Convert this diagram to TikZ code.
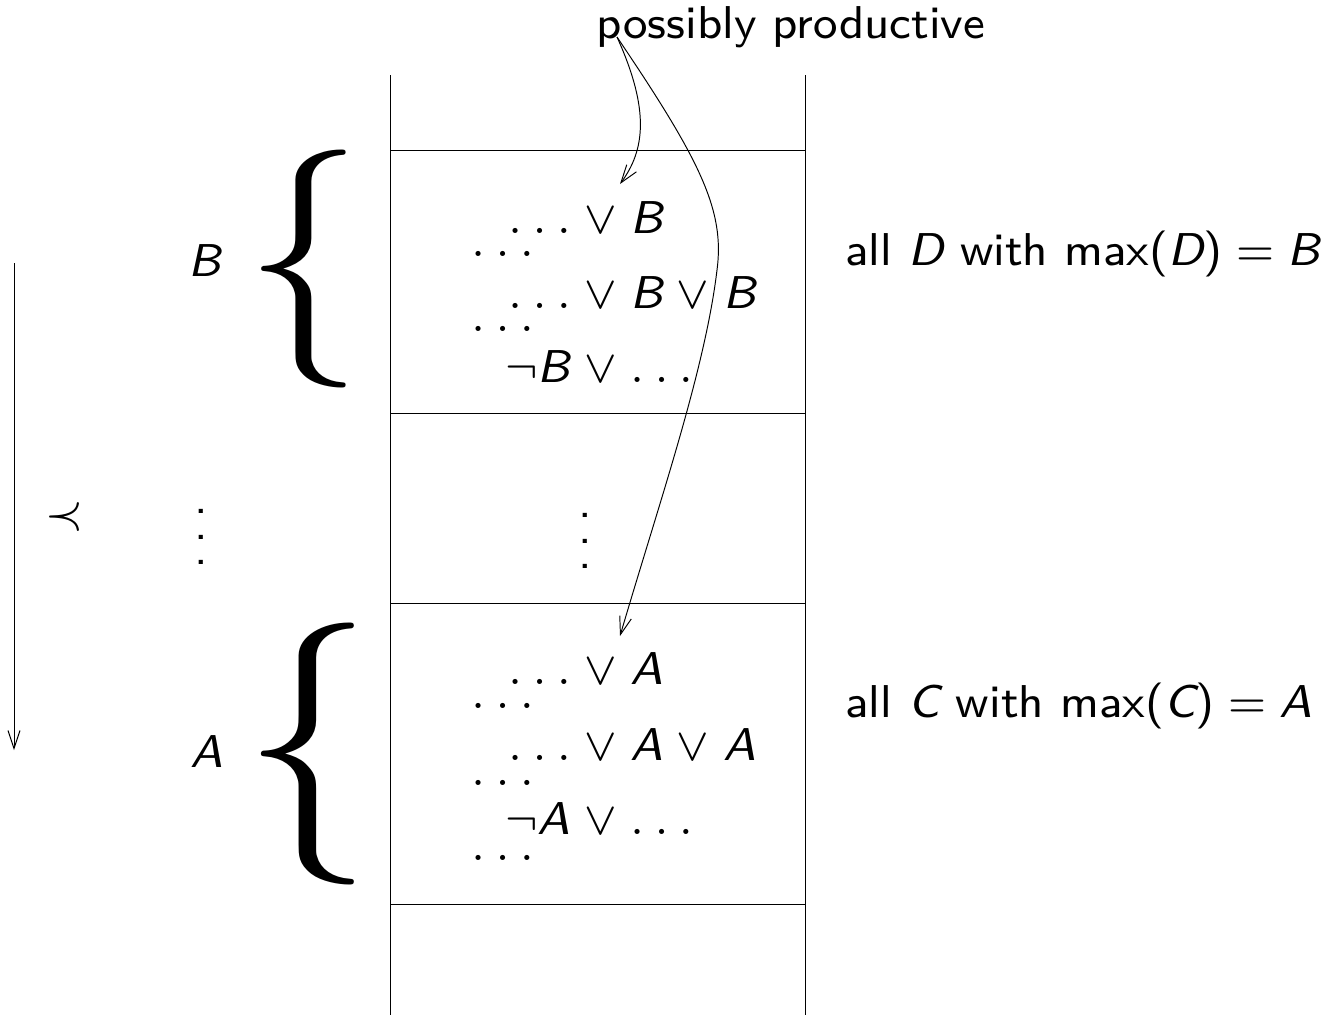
\documentclass[tikz,border=0pt]{standalone}
\usepackage{graphicx}
\usetikzlibrary{arrows.meta}
\newcommand\mi[1]{\mbox{\itshape #1}}
\newcommand\dd{\mathinner{.\mkern4mu.\mkern4mu.}}
\newcommand\T[1]{\scalebox{3.275}{\fontsize{8}{10}\selectfont\sffamily\medmuskip=5mu #1}}
\newcommand\vdd{\vbox{\baselineskip=4.5pt\lineskiplimit=-20pt\hbox{.}\hbox{.}\hbox{.}}}
\begin{document}
\begin{tikzpicture}[x=0.02cm,y=-0.02cm,
  txt/.style={inner sep=0pt},
  rule/.style={line width=0.55pt},
  arr/.style={line width=0.55pt,-{Straight Barb[length=0.36cm,width=0.24cm]}}]
\useasboundingbox (0,0) rectangle (1337,1015);
% column
\coordinate (ctl) at (390,75); \coordinate (cbl) at (390,1015);
\coordinate (ctr) at (805,75); \coordinate (cbr) at (805,1015);
\draw[rule] (ctl) -- (cbl);
\draw[rule] (ctr) -- (cbr);
\draw[rule] (390,150) -- (805,150);
\draw[rule] (390,413) -- (805,413);
\draw[rule] (390,603) -- (805,603);
\draw[rule] (390,904) -- (805,904);
% title
\node[txt,anchor=base] (pp) at (791,38) {\T{possibly productive}};
% B box
\node[txt,anchor=base west] (b1) at (508,233) {\T{$\dd\vee\mi{B}$}};
\node[txt,anchor=base west] (b1d) at (471,256) {\T{$\dd$}};
\node[txt,anchor=base west] (b2) at (508,308) {\T{$\dd\vee\mi{B}\vee\mi{B}$}};
\node[txt,anchor=base west] (b2d) at (471,331) {\T{$\dd$}};
\node[txt,anchor=base west] (b3) at (505,382) {\T{$\neg\mi{B}\vee\dd$}};
% middle dots
\node[txt] (vd2) at (585,541) {\T{\vdd}};
\node[txt] (vd1) at (201,537) {\T{\vdd}};
% A box
\node[txt,anchor=base west] (a1) at (508,684) {\T{$\dd\vee\mi{A}$}};
\node[txt,anchor=base west] (a1d) at (471,708) {\T{$\dd$}};
\node[txt,anchor=base west] (a2) at (508,760) {\T{$\dd\vee\mi{A}\vee\mi{A}$}};
\node[txt,anchor=base west] (a2d) at (471,785) {\T{$\dd$}};
\node[txt,anchor=base west] (a3) at (505,834) {\T{$\neg\mi{A}\vee\dd$}};
\node[txt,anchor=base west] (a3d) at (471,860) {\T{$\dd$}};
% right labels
\node[txt,anchor=base west] (rd) at (845,265) {\T{all $\mi{D}$ with $\mbox{max(}\mi{D}\mbox{)}=\mi{B}$}};
\node[txt,anchor=base west] (rc) at (845,717) {\T{all $\mi{C}$ with $\mbox{max(}\mi{C}\mbox{)}=\mi{A}$}};
% left labels and braces
\node[txt] (lb) at (205,261) {\T{\mi{B}}};
\node[txt] (la) at (207,752) {\T{\mi{A}}};
\node[inner sep=0pt] (brB) at (304,269) {\resizebox*{!}{4.76cm}{$\{$}};
\node[inner sep=0pt] (brA) at (308,754) {\resizebox*{!}{5.24cm}{$\{$}};
\node[txt] (prec) at (65,517) {\T{$\prec$}};
% order arrow
\coordinate (ot) at (14,263); \coordinate (ob) at (14,750);
\draw[arr] (ot) -- (ob);
% arrows from title
\coordinate (ps) at (617,37);
\coordinate (tipB) at (620,184);
\coordinate (tipA) at (620,636);
\draw[arr] (ps) .. controls (650,110) and (645,150) .. (tipB);
\draw[arr] (ps) .. controls (700,160) and (725,210) .. (717,270) .. controls (705,370) and (660,500) .. (tipA);
\end{tikzpicture}
\end{document}
